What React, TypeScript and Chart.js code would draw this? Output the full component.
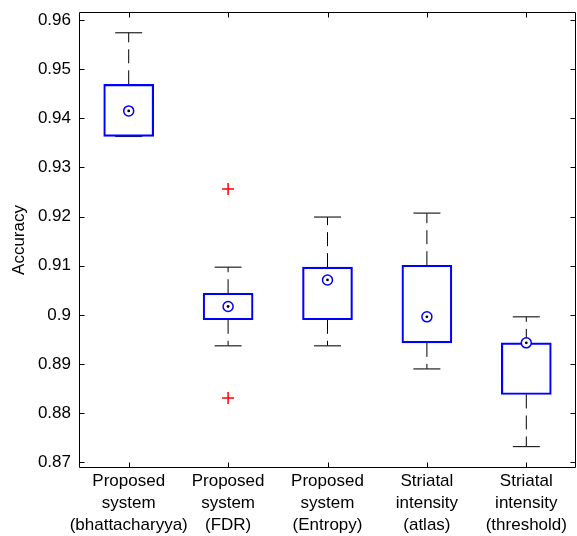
import React, { useEffect, useRef } from 'react';
import { Chart, registerables } from 'chart.js';

Chart.register(...registerables);

const categories: string[][] = [
  ['Proposed', 'system', '(bhattacharyya)'],
  ['Proposed', 'system', '(FDR)'],
  ['Proposed', 'system', '(Entropy)'],
  ['Striatal', 'intensity', '(atlas)'],
  ['Striatal', 'intensity', '(threshold)'],
];
const lowerWhisker = [0.9363, 0.8937, 0.8937, 0.889, 0.8732];
const q1 = [0.9363, 0.899, 0.899, 0.8943, 0.8838];
const median = [0.9415, 0.9017, 0.9071, 0.8996, 0.8943];
const q3 = [0.9469, 0.9044, 0.9097, 0.9101, 0.8943];
const upperWhisker = [0.9574, 0.9097, 0.9199, 0.9207, 0.8996];
const outliers: number[][] = [[], [0.9256, 0.8831], [], [], []];
const yTicks = [0.87, 0.88, 0.89, 0.9, 0.91, 0.92, 0.93, 0.94, 0.95, 0.96];
const yMin = 0.86884;
const yMax = 0.96162;

const FONT = "'Liberation Sans', Arial, Helvetica, sans-serif";

const framePlugin = {
  id: 'frame',
  afterDraw(chart: any) {
    const { ctx, chartArea } = chart;
    const { left, right, top, bottom } = chartArea;
    const xs = chart.scales.x;
    const ys = chart.scales.y;
    const L = Math.round(left) + 0.5;
    const R = Math.round(right) - 0.5;
    const T = Math.round(top) + 0.5;
    const B = Math.round(bottom) - 0.5;
    ctx.save();
    ctx.strokeStyle = '#000';
    ctx.lineWidth = 1;
    ctx.beginPath();
    ctx.moveTo(L, T);
    ctx.lineTo(R, T);
    ctx.lineTo(R, B);
    ctx.lineTo(L, B);
    ctx.closePath();
    const tl = 5;
    yTicks.forEach((v) => {
      const y = Math.round(ys.getPixelForValue(v)) + 0.5;
      ctx.moveTo(L, y);
      ctx.lineTo(L + tl, y);
      ctx.moveTo(R, y);
      ctx.lineTo(R - tl, y);
    });
    categories.forEach((_, i) => {
      const x = Math.round(xs.getPixelForValue(i + 1)) + 0.5;
      ctx.moveTo(x, B);
      ctx.lineTo(x, B - tl);
      ctx.moveTo(x, T);
      ctx.lineTo(x, T + tl);
    });
    ctx.stroke();
    ctx.restore();
  },
};

export default function App() {
  const ref = useRef<HTMLCanvasElement>(null);
  useEffect(() => {
    if (!ref.current) return;
    Chart.defaults.font.family = FONT;
    Chart.defaults.color = '#000';

    const whiskerData: any[] = [];
    const capData: any[] = [];
    const medData: any[] = [];
    const outData: any[] = [];
    const boxData: any[] = [];
    categories.forEach((_, i) => {
      const x = i + 1;
      whiskerData.push({ x, y: q3[i] }, { x, y: upperWhisker[i] }, { x, y: null });
      whiskerData.push({ x, y: q1[i] }, { x, y: lowerWhisker[i] }, { x, y: null });
      capData.push({ x, y: upperWhisker[i] }, { x, y: lowerWhisker[i] });
      medData.push({ x, y: median[i] });
      outliers[i].forEach((v) => outData.push({ x, y: v }));
      boxData.push({ x, y: [q1[i], q3[i]] });
    });

    const chart = new Chart(ref.current, {
      type: 'bar',
      data: {
        datasets: [
          {
            type: 'line',
            data: whiskerData,
            borderColor: '#000',
            borderWidth: 1,
            borderDash: [14, 7],
            pointRadius: 0,
            spanGaps: false,
            fill: false,
            order: 5,
          } as any,
          {
            type: 'scatter',
            data: capData,
            pointStyle: 'line',
            pointRadius: 13.5,
            borderColor: '#222',
            borderWidth: 1.2,
            order: 4,
          } as any,
          {
            type: 'bar',
            data: boxData,
            barThickness: 50,
            backgroundColor: 'rgba(0,0,0,0)',
            borderColor: '#0000ff',
            borderWidth: 1.5,
            borderSkipped: false,
            order: 3,
          } as any,
          {
            type: 'scatter',
            data: medData,
            pointStyle: 'circle',
            pointRadius: 5,
            borderColor: '#0000ff',
            borderWidth: 1.5,
            backgroundColor: '#ffffff',
            order: 2,
          } as any,
          {
            type: 'scatter',
            data: medData,
            pointStyle: 'circle',
            pointRadius: 1.4,
            borderWidth: 0,
            backgroundColor: '#000000',
            order: 1,
          } as any,
          {
            type: 'scatter',
            data: outData,
            pointStyle: 'cross',
            pointRadius: 6,
            borderColor: '#ff0000',
            borderWidth: 1.5,
            order: 0,
          } as any,
        ],
      },
      options: {
        animation: false,
        responsive: false,
        events: [],
        layout: { autoPadding: false, padding: { top: 12, right: 1, left: 0, bottom: 0 } },
        plugins: { legend: { display: false }, tooltip: { enabled: false } },
        scales: {
          x: {
            type: 'linear',
            min: 0.5,
            max: 5.5,
            offset: false,
            grid: { display: false, drawTicks: false },
            border: { display: false },
            afterBuildTicks: (s: any) => {
              s.ticks = categories.map((_, i) => ({ value: i + 1 }));
            },
            afterFit: (s: any) => {
              s.height = 68;
              s.paddingLeft = 0;
              s.paddingRight = 0;
              s.paddingTop = 0;
              s.paddingBottom = 0;
            },
            ticks: {
              autoSkip: false,
              maxRotation: 0,
              minRotation: 0,
              padding: 2,
              color: '#000',
              font: { size: 17, family: FONT, lineHeight: 1.3 },
              callback: (v: any) => categories[Math.round(Number(v)) - 1] || '',
            },
          },
          y: {
            type: 'linear',
            min: yMin,
            max: yMax,
            grid: { display: false, drawTicks: false },
            border: { display: false },
            afterBuildTicks: (s: any) => {
              s.ticks = yTicks.map((v) => ({ value: v }));
            },
            afterFit: (s: any) => {
              s.width = 79;
              s.paddingTop = 0;
              s.paddingBottom = 0;
              s.paddingLeft = 0;
              s.paddingRight = 0;
            },
            ticks: {
              padding: 8,
              color: '#000',
              font: { size: 17, family: FONT },
              callback: (v: any) => String(parseFloat(Number(v).toFixed(2))),
            },
            title: {
              display: true,
              text: 'Accuracy',
              color: '#000',
              font: { size: 17, family: FONT },
              padding: { top: 9, bottom: 0 },
            },
          },
        },
      } as any,
      plugins: [framePlugin],
    });
    return () => chart.destroy();
  }, []);
  return (
    <div style={{ position: 'fixed', left: 0, top: 0, width: 577, height: 536, background: '#fff' }}>
      <canvas ref={ref} width={577} height={536} style={{ display: 'block' }} />
    </div>
  );
}
